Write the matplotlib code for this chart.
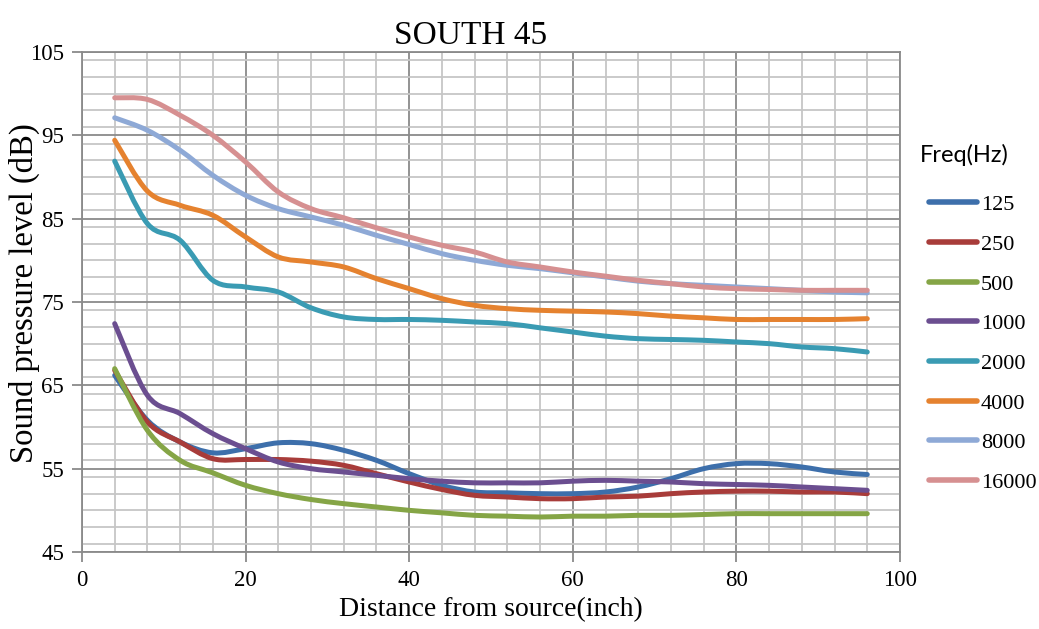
import numpy as np
import matplotlib
matplotlib.use("Agg")
import matplotlib.pyplot as plt
from matplotlib.path import Path
from matplotlib.patches import PathPatch
from matplotlib.lines import Line2D
from matplotlib.ticker import MultipleLocator

# distances (inch) where readings were taken
distance = [4, 8, 12, 16, 20, 24, 28, 32, 36, 40, 44, 48,
            52, 56, 60, 64, 68, 72, 76, 80, 84, 88, 92, 96]

f125 = [66.2, 60.8, 58.2, 56.9, 57.4, 58.1, 58.0, 57.2, 56.0, 54.4, 53.0, 52.2,
        52.1, 52.0, 52.0, 52.2, 52.8, 53.8, 55.0, 55.6, 55.6, 55.2, 54.6, 54.3]
f250 = [66.8, 60.6, 58.2, 56.2, 56.1, 56.1, 55.9, 55.4, 54.4, 53.4, 52.5, 51.8,
        51.6, 51.4, 51.4, 51.6, 51.7, 52.0, 52.2, 52.3, 52.3, 52.2, 52.2, 52.0]
f500 = [67.0, 59.6, 56.0, 54.5, 53.0, 52.0, 51.3, 50.8, 50.4, 50.0, 49.7, 49.4,
        49.3, 49.2, 49.3, 49.3, 49.4, 49.4, 49.5, 49.6, 49.6, 49.6, 49.6, 49.6]
f1000 = [72.4, 63.8, 61.6, 59.2, 57.4, 55.8, 55.0, 54.6, 54.2, 53.8, 53.5, 53.3,
         53.3, 53.3, 53.5, 53.6, 53.5, 53.4, 53.2, 53.1, 53.0, 52.8, 52.6, 52.4]
f2000 = [91.9, 84.4, 82.4, 77.6, 76.8, 76.2, 74.3, 73.2, 72.9, 72.9, 72.8, 72.6,
         72.4, 71.9, 71.4, 70.9, 70.6, 70.5, 70.4, 70.2, 70.0, 69.6, 69.4, 69.0]
f4000 = [94.4, 88.3, 86.6, 85.4, 82.8, 80.4, 79.8, 79.2, 77.8, 76.6, 75.4, 74.6,
         74.2, 74.0, 73.9, 73.8, 73.6, 73.3, 73.1, 72.9, 72.9, 72.9, 72.9, 73.0]
f8000 = [97.1, 95.6, 93.2, 90.2, 87.8, 86.2, 85.2, 84.2, 83.0, 81.9, 80.8, 80.0,
         79.4, 79.0, 78.5, 78.0, 77.5, 77.2, 77.0, 76.8, 76.6, 76.4, 76.2, 76.1]
f16000 = [99.5, 99.3, 97.4, 95.0, 91.8, 88.2, 86.2, 85.1, 83.9, 82.8, 81.8, 81.0,
          79.8, 79.2, 78.6, 78.1, 77.6, 77.2, 76.8, 76.6, 76.5, 76.4, 76.4, 76.4]

labels = ["125", "250", "500", "1000", "2000", "4000", "8000", "16000"]
colors = ["#3d6fab", "#a83c3a", "#85a546", "#6b4e90", "#3a9bb3", "#e5822f",
          "#8ea9d6", "#d69091"]
series = [f125, f250, f500, f1000, f2000, f4000, f8000, f16000]


def smooth_path(xs, ys):
    # Excel-like smoothed line: cubic bezier through every point
    p = np.column_stack([xs, ys]).astype(float)
    n = len(p)
    verts = [p[0]]
    codes = [Path.MOVETO]
    for i in range(n - 1):
        p0 = p[i - 1] if i > 0 else p[i]
        p3 = p[i + 2] if i + 2 < n else p[i + 1]
        c1 = p[i] + (p[i + 1] - p0) / 6.0
        c2 = p[i + 1] - (p3 - p[i]) / 6.0
        verts += [c1, c2, p[i + 1]]
        codes += [Path.CURVE4] * 3
    return Path(verts, codes)


serif = ["Liberation Serif", "DejaVu Serif"]

fig = plt.figure(figsize=(10.39, 6.29), dpi=100)
ax = fig.add_axes([0.0789, 0.1224, 0.7873, 0.795])

for ys, c in zip(series, colors):
    patch = PathPatch(smooth_path(distance, ys), fill=False, edgecolor=c,
                      lw=3.6, capstyle="round", joinstyle="round", zorder=3)
    ax.add_patch(patch)

ax.set_xlim(0, 100)
ax.set_ylim(45, 105)
ax.xaxis.set_major_locator(MultipleLocator(20))
ax.xaxis.set_minor_locator(MultipleLocator(4))
ax.set_yticks(np.arange(45, 106, 10))
ax.yaxis.set_minor_locator(MultipleLocator(2))

ax.grid(which="minor", color="#c6c6c6", lw=1.3, zorder=0)
ax.grid(which="major", color="#8a8a8a", lw=1.3, zorder=1)
ax.set_axisbelow(True)
for s in ax.spines.values():
    s.set_color("#8a8a8a")
    s.set_linewidth(1.3)
ax.tick_params(which="major", direction="out", length=7, width=1.3,
               color="#8a8a8a", labelsize=16.5, pad=6)
ax.tick_params(which="minor", length=0)
for lab in ax.get_xticklabels() + ax.get_yticklabels():
    lab.set_fontfamily(serif)

ax.set_title("SOUTH 45", fontsize=24, family=serif, x=0.4756, pad=6)
ax.set_xlabel("Distance from source(inch)", fontsize=20, family=serif, labelpad=4)
ax.set_ylabel("Sound pressure level (dB)", fontsize=23.5, family=serif, labelpad=-2)
ax.yaxis.set_label_coords(-0.051, 0.518)

fig.text(920 / 1039, 1 - 155 / 629, "Freq(Hz)", family=["Lato", "DejaVu Sans"],
         fontsize=17, ha="left", va="center")

handles = [Line2D([], [], color=c, lw=4, solid_capstyle="round") for c in colors]
fig.legend(handles, labels, loc="upper left", bbox_to_anchor=(0.8937, 0.6905),
           frameon=False, prop={"family": serif, "size": 16},
           handlelength=2.2, handletextpad=0.15, labelspacing=0.86,
           borderaxespad=0, borderpad=0)

fig.savefig("out.png", dpi=100)
